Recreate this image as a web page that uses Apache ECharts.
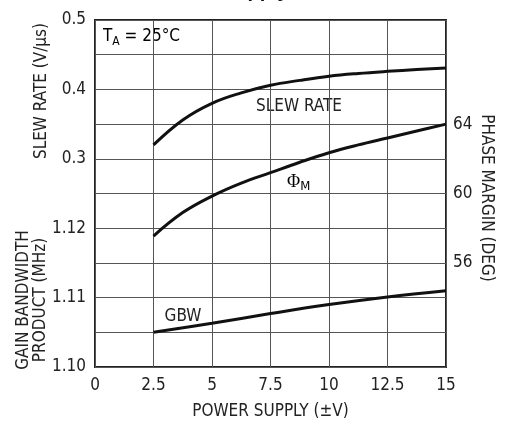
<!DOCTYPE html>
<html><head><meta charset="utf-8">
<script src="https://cdn.jsdelivr.net/npm/echarts@6/dist/echarts.min.js"></script>
<style>html,body{margin:0;padding:0;background:#fff}#c{width:509px;height:425px}</style>
</head><body><div id="c"></div>
<script>
// Data (x = power supply ±V)
var xTicks = [0, 2.5, 5, 7.5, 10, 12.5, 15];
var curveX = [2.5, 3.75, 5, 6.25, 7.5, 8.75, 10, 11.25, 12.5, 13.75, 15];
var slewY = [0.320, 0.356, 0.380, 0.395, 0.406, 0.413, 0.419, 0.423, 0.426, 0.4285, 0.431];
var phaseY = [57.55, 58.9, 59.85, 60.6, 61.2, 61.8, 62.35, 62.8, 63.2, 63.6, 64.0];
var gbwX = [2.5, 5, 7.5, 10, 12.5, 15];
var gbwY = [1.1050, 1.1063, 1.1077, 1.1090, 1.1101, 1.1110];
var slewLabels = [0.3, 0.4, 0.5];
var gbwLabels = [1.10, 1.11, 1.12];
var phaseLabels = [56, 60, 64];

function pairs(xs, ys){ return xs.map(function(x,i){return [x, ys[i]];}); }
function pick(list, digits){
  return function(v){
    for (var i=0;i<list.length;i++){ if (Math.abs(v-list[i])<1e-6) return list[i].toFixed(digits); }
    return '';
  };
}
var FONT = "'DejaVu Sans Condensed','Liberation Sans Narrow',sans-serif";
var FS = 17;
var TC = '#222';
var chart = echarts.init(document.getElementById('c'), null, {renderer:'canvas'});
var lineStyle = {color:'#111', width:3};
chart.setOption({
  animation:false,
  textStyle:{fontFamily:FONT},
  grid:{left:95, right:63, top:20, bottom:53, show:true, borderColor:'#222', borderWidth:2, backgroundColor:'transparent'},
  xAxis:{type:'value', min:0, max:15, interval:2.5,
    axisLine:{show:false}, axisTick:{show:false},
    splitLine:{show:true, lineStyle:{color:'#555', width:1}},
    axisLabel:{fontFamily:FONT, fontSize:FS, color:TC, margin:10,
      formatter:function(v){ for (var i=0;i<xTicks.length;i++){ if (Math.abs(v-xTicks[i])<1e-6) return String(xTicks[i]); } return ''; }},
    name:'POWER SUPPLY (±V)', nameLocation:'middle', nameGap:36,
    nameTextStyle:{fontFamily:FONT, fontSize:FS, color:TC}
  },
  yAxis:[
    {type:'value', position:'left', min:0, max:0.5, interval:0.05,
      axisLine:{show:false}, axisTick:{show:false},
      splitLine:{show:true, lineStyle:{color:'#555', width:1}},
      axisLabel:{fontFamily:FONT, fontSize:FS, color:TC, margin:9, formatter:pick(slewLabels,1)}},
    {type:'value', position:'left', min:1.10, max:1.15, interval:0.005,
      axisLine:{show:false}, axisTick:{show:false}, splitLine:{show:false},
      axisLabel:{fontFamily:FONT, fontSize:FS, color:TC, margin:9, formatter:pick(gbwLabels,2)}},
    {type:'value', position:'right', min:50, max:70, interval:2,
      axisLine:{show:false}, axisTick:{show:false}, splitLine:{show:false},
      axisLabel:{fontFamily:FONT, fontSize:FS, color:TC, margin:7, formatter:pick(phaseLabels,0)}}
  ],
  series:[
    {type:'line', name:'SLEW RATE', yAxisIndex:0, data:pairs(curveX, slewY), smooth:0.4, showSymbol:false, lineStyle:lineStyle},
    {type:'line', name:'PHASE MARGIN', yAxisIndex:2, data:pairs(curveX, phaseY), smooth:0.4, showSymbol:false, lineStyle:lineStyle},
    {type:'line', name:'GBW', yAxisIndex:1, data:pairs(gbwX, gbwY), smooth:0.4, showSymbol:false, lineStyle:lineStyle}
  ],
  graphic:[
    {type:'text', left:222, top:-19, style:{text:'Supply', font:"bold 20px 'Liberation Sans', Arial, sans-serif", fill:'#111'}},
    {type:'text', x:42, y:91, rotation:Math.PI/2, style:{text:'SLEW RATE (V/μs)', font:FS+"px "+FONT, fill:TC, align:'center', verticalAlign:'middle'}},
    {type:'text', x:32, y:300, rotation:Math.PI/2, style:{text:'GAIN BANDWIDTH\nPRODUCT (MHz)', font:FS+"px "+FONT, fill:TC, align:'center', verticalAlign:'middle', lineHeight:17}},
    {type:'text', x:486, y:198, rotation:-Math.PI/2, style:{text:'PHASE MARGIN (DEG)', font:FS+"px "+FONT, fill:TC, align:'center', verticalAlign:'middle'}},
    {type:'text', x:103, y:37, style:{text:'{m|T}{s|A}{m| = 25°C}', verticalAlign:'middle', rich:{m:{fontFamily:FONT, fontSize:FS, color:TC}, s:{fontFamily:FONT, fontSize:12, color:TC, padding:[9,0,0,0]}}}},
    {type:'text', x:299, y:107, style:{text:'SLEW RATE', font:FS+"px "+FONT, fill:TC, align:'center', verticalAlign:'middle'}},
    {type:'text', x:287, y:182, style:{text:'{m|Φ}{s|M}', verticalAlign:'middle', rich:{m:{fontFamily:"'Liberation Serif','DejaVu Serif',serif", fontSize:18, color:TC}, s:{fontFamily:FONT, fontSize:13, color:TC, padding:[9,0,0,0]}}}},
    {type:'text', x:183, y:317, style:{text:'GBW', font:FS+"px "+FONT, fill:TC, align:'center', verticalAlign:'middle'}}
  ]
});
</script></body></html>
